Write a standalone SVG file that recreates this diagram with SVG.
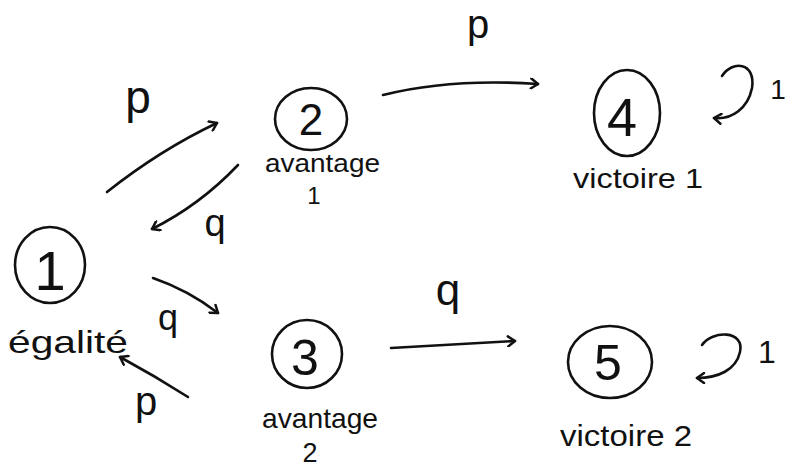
<svg xmlns="http://www.w3.org/2000/svg" width="794" height="468" viewBox="0 0 794 468">
<defs>
<marker id="ah" markerWidth="12" markerHeight="12" refX="9" refY="6" orient="auto" markerUnits="userSpaceOnUse">
<path d="M2,1 L9,6 L2,11" fill="none" stroke="#111" stroke-width="2.5" stroke-linecap="round" stroke-linejoin="round"/>
</marker>
<style>
.n{fill:none;stroke:#111;stroke-width:2.6}
.t{font-family:"Liberation Sans","DejaVu Sans",sans-serif;fill:#111}
.c{text-anchor:middle}
</style>
</defs>
<rect width="794" height="468" fill="#fff"/>
<g id="node1">
<ellipse class="n" cx="50" cy="265" rx="35" ry="38"/>
<text class="t c" x="50" y="290" font-size="56">1</text>
<text class="t" x="8" y="353" font-size="32" textLength="120" lengthAdjust="spacingAndGlyphs">égalité</text>
</g>
<g id="node2">
<ellipse class="n" cx="311" cy="119" rx="36" ry="31"/>
<text class="t c" x="311" y="135" font-size="44">2</text>
<text class="t" x="265" y="172" font-size="26" textLength="115" lengthAdjust="spacingAndGlyphs">avantage</text>
<text class="t c" x="314" y="204" font-size="24">1</text>
</g>
<g id="node3">
<ellipse class="n" cx="307" cy="354" rx="35" ry="34"/>
<text class="t c" x="305" y="375" font-size="50">3</text>
<text class="t" x="262" y="428" font-size="28" textLength="116" lengthAdjust="spacingAndGlyphs">avantage</text>
<text class="t c" x="310" y="462" font-size="27">2</text>
</g>
<g id="node4">
<ellipse class="n" cx="627" cy="113" rx="33" ry="43"/>
<text class="t c" x="622" y="136" font-size="54">4</text>
<text class="t" x="573" y="188" font-size="28" textLength="130" lengthAdjust="spacingAndGlyphs">victoire 1</text>
</g>
<g id="node5">
<ellipse class="n" cx="610" cy="362" rx="42" ry="36"/>
<text class="t c" x="608" y="380" font-size="50">5</text>
<text class="t" x="560" y="446" font-size="30" textLength="132" lengthAdjust="spacingAndGlyphs">victoire 2</text>
</g>
<g id="connectors" fill="none" stroke="#111" stroke-width="2.6" stroke-linecap="round">
<path d="M107,192 Q160,150 217,123" marker-end="url(#ah)"/>
<path d="M238,165 Q200,205 152,229" marker-end="url(#ah)"/>
<path d="M153,278 Q188,290 218,313" marker-end="url(#ah)"/>
<path d="M188,397 Q155,376 120,357" marker-end="url(#ah)"/>
<path d="M383,95 Q450,78 538,84" marker-end="url(#ah)"/>
<path d="M391,348 L515,341" marker-end="url(#ah)"/>
<path d="M722,76 C732,60 756,62 752,88 C748,108 732,120 714,118" marker-end="url(#ah)"/>
<path d="M702,345 C712,330 745,330 740,352 C736,370 718,378 697,378" marker-end="url(#ah)"/>
</g>
<g id="labels">
<text class="t c" x="138" y="113" font-size="46">p</text>
<text class="t c" x="215" y="236" font-size="38">q</text>
<text class="t c" x="168" y="330" font-size="36">q</text>
<text class="t c" x="146" y="415" font-size="40">p</text>
<text class="t c" x="478" y="38" font-size="40">p</text>
<text class="t c" x="448" y="305" font-size="44">q</text>
<text class="t c" x="778" y="99" font-size="28">1</text>
<text class="t c" x="767" y="363" font-size="32">1</text>
</g>
</svg>
